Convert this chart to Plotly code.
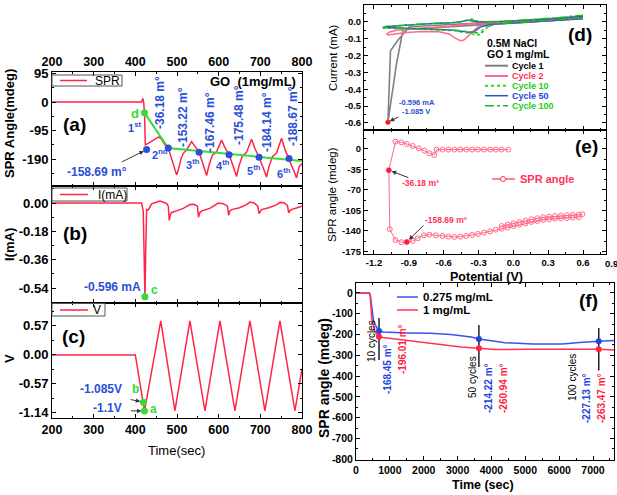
import plotly.graph_objects as go

W, H = 617, 495
FONT = "Liberation Sans, Arial, sans-serif"
RED = "#ff2448"
BLUE = "#2b4fd6"
GREEN = "#33dd33"
PINK = "#ff6a88"

# ======================= DATA =======================
# (a) SPR angle (mdeg) vs time (s)
spr_time = [200, 415, 418, 420, 422, 424, 431, 443, 456, 463, 471, 479, 487, 495, 499, 503, 510, 515, 523, 535,
            543, 553, 563, 571, 577, 585, 595, 607, 615, 625, 635, 643, 649, 657, 667, 679, 687, 697, 707, 715,
            721, 729, 739, 751, 759, 769, 779, 787, 793, 800]
spr_angle = [0, 0, 12, 0, -36.18, -143, -138, -127, -116, -124, -143, -153, -188, -227, -243, -227, -188, -171, -160, -132,
             -149, -167, -210, -245, -210, -177, -166, -127, -152, -175, -215, -248, -212, -180, -168, -124, -155, -184, -220, -250,
             -214, -182, -170, -121, -158, -189, -225, -253, -216, -205]
spr_dot_time = [427, 479, 553, 625, 697, 769]
spr_dot_angle = [-158.69, -153.22, -167.46, -175.48, -184.14, -188.67]
spr_d_time = [422]
spr_d_angle = [-36.18]
trend_time = [422, 479, 800]
trend_angle = [-36.18, -153.22, -197.0]
spr_value_labels = ["-36.18 m°", "-153.22 m°", "-167.46 m°", "-175.48 m°", "-184.14 m°", "-188.67 m°"]
cycle_labels = ["1<sup>st</sup>", "2<sup>nd</sup>", "3<sup>th</sup>", "4<sup>th</sup>", "5<sup>th</sup>", "6<sup>th</sup>"]

# (b) current (mA) vs time
cur_time = [200, 415, 419, 421, 423, 425, 427, 431, 439, 450, 459, 468, 476, 479, 481.5, 484, 487, 499, 515, 531,
            541, 549, 551.5, 555, 559, 579, 599, 611, 621, 624, 627, 631, 650, 667, 675, 685, 694, 697, 700, 703,
            720, 739, 747, 757, 765, 768, 771, 775, 788, 800]
cur_val = [0, 0, -0.05, -0.35, -0.596, -0.3, -0.04, -0.045, -0.005, 0.005, 0.012, 0.005, -0.005, -0.02, -0.11, -0.075, -0.06, -0.05, -0.034, -0.01,
           -0.008, -0.02, -0.09, -0.06, -0.05, -0.034, 0.0, -0.004, -0.02, -0.078, -0.05, -0.042, -0.03, -0.01, 0.006, 0.0, -0.02, -0.068, -0.05, -0.042,
           -0.03, -0.012, 0.004, 0.002, -0.015, -0.062, -0.048, -0.042, -0.03, -0.02]
cur_c_time = [423]
cur_c_val = [-0.596]

# (c) potential (V) vs time
volt_time = [200, 400, 422, 461, 495, 531, 567, 603, 639, 675, 711, 747, 783, 800]
volt_val = [0, 0, -1.1, 0.67, -1.1, 0.67, -1.1, 0.67, -1.1, 0.67, -1.1, 0.67, -1.1, -0.27]
volt_pt_time = [419, 422]
volt_pt_val = [-0.93, -1.1]

# (d) cyclic voltammograms
cv_E1 = [0.6, 0.4, 0.2, 0.0, -0.2, -0.4, -0.6, -0.8, -0.95, -1.007, -1.08, -1.058, -0.993, -0.894, -0.7, -0.5, -0.3, -0.1, 0.1, 0.3, 0.5, 0.6]
cv_I1 = [0.025, 0.012, 0.004, -0.004, -0.012, -0.02, -0.03, -0.04, -0.047, -0.253, -0.596, -0.172, -0.108, -0.029, -0.022, -0.015, -0.006, 0.002, 0.008, 0.015, 0.026, 0.033]
cv_E2 = [0.6, 0.4, 0.2, 0.0, -0.15, -0.27, -0.31, -0.355, -0.4, -0.426, -0.454, -0.5, -0.553, -0.64, -0.78, -0.92, -1.08, -1.09,
         -1.064, -1.007, -0.92, -0.81, -0.7, -0.58, -0.5, -0.41, -0.355, -0.2, 0.0, 0.2, 0.4, 0.6]
cv_I2 = [0.02, 0.01, 0.0, -0.008, -0.012, -0.018, -0.033, -0.063, -0.088, -0.108, -0.112, -0.096, -0.072, -0.059, -0.057, -0.063, -0.078, -0.072,
         -0.06, -0.05, -0.044, -0.037, -0.033, -0.029, -0.023, -0.018, -0.01, -0.003, 0.004, 0.012, 0.022, 0.034]
cv_E10 = [0.6, 0.4, 0.2, 0.0, -0.15, -0.242, -0.284, -0.312, -0.355, -0.5, -0.78, -1.0, -1.12, -1.12, -0.92, -0.7, -0.5, -0.384, -0.355, -0.327, -0.242, 0.0, 0.2, 0.4, 0.6]
cv_I10 = [0.02, 0.01, 0.002, -0.006, -0.012, -0.024, -0.072, -0.082, -0.072, -0.053, -0.044, -0.04, -0.037, -0.03, -0.018, -0.01, -0.004, 0.01, 0.016, 0.006, 0.0, 0.006, 0.014, 0.024, 0.036]
cv_E50 = [0.6, 0.4, 0.2, 0.0, -0.2, -0.28, -0.33, -0.37, -0.42, -0.55, -0.8, -1.0, -1.11, -1.1, -0.95, -0.75, -0.55, -0.45, -0.4, -0.36, -0.3, -0.1, 0.1, 0.3, 0.6]
cv_I50 = [0.018, 0.008, 0.0, -0.008, -0.015, -0.03, -0.055, -0.063, -0.058, -0.048, -0.04, -0.036, -0.033, -0.028, -0.02, -0.012, -0.006, 0.0, 0.01, 0.004, -0.002, 0.002, 0.008, 0.016, 0.032]
cv_E100 = [0.6, 0.4, 0.2, 0.0, -0.15, -0.22, -0.26, -0.3, -0.35, -0.5, -0.8, -1.0, -1.12, -1.11, -0.9, -0.7, -0.5, -0.4, -0.36, -0.32, -0.25, 0.0, 0.2, 0.4, 0.6]
cv_I100 = [0.022, 0.012, 0.004, -0.005, -0.012, -0.03, -0.06, -0.068, -0.06, -0.05, -0.042, -0.038, -0.035, -0.029, -0.017, -0.009, -0.003, 0.006, 0.012, 0.004, 0.0, 0.006, 0.015, 0.026, 0.04]
cv_names = ["Cycle 1", "Cycle 2", "Cycle 10", "Cycle 50", "Cycle 100"]
cv_peak_E = [-1.08]
cv_peak_I = [-0.596]

# (e) SPR angle vs potential
e_V = [-0.043, -0.1, -0.151, -0.2, -0.253, -0.304, -0.355, -0.406, -0.457, -0.508, -0.559, -0.61, -0.661,
       -0.681, -0.723, -0.766, -0.814, -0.866, -0.917, -0.964, -1.015,
       -1.072, -1.064, -1.015, -0.964, -0.917,
       -0.866, -0.823, -0.772, -0.723, -0.667, -0.61, -0.559, -0.508, -0.457, -0.406, -0.355, -0.304, -0.253, -0.2, -0.151,
       -0.1, -0.049, 0.002, 0.053, 0.104, 0.155, 0.206, 0.257, 0.308, 0.359, 0.41, 0.461, 0.512, 0.563, 0.594,
       0.563, 0.512, 0.461, 0.41, 0.359, 0.308, 0.257, 0.206, 0.155, 0.104, 0.053, 0.002, -0.049, -0.1]
e_A = [-1, -1, -1, -1, -1, -1, -1, -1, -1, -1, -1, -1, -1,
       -10.2, -7.4, -2.8, 1.1, 5.1, 8.5, 11.3, 12.5,
       -36.18, -137, -155.4, -159.3, -158.69,
       -157, -152.5, -147.4, -146.3, -147.4, -148.5, -149.7, -150.2, -149.7, -148.5, -146.8, -145.1, -142.8, -140.6, -137.7,
       -136, -134, -131.6, -129.2, -127, -124.6, -122.9, -121.2, -120, -119, -118.4, -117.8, -117.2, -116.6, -111.4,
       -112, -112.6, -113.2, -113.8, -114.4, -115.5, -116.6, -118.3, -120, -122.4, -124.6, -127, -129.2, -131.5]
e_dot_V = [-1.072, -0.917]
e_dot_A = [-36.18, -158.69]

# (f) long-term SPR angle
f_blue_t = [0, 390, 420, 440, 466, 490, 520, 564, 620, 680, 800, 1000, 1500, 2200, 2800, 3400, 3630, 4000, 4400, 5200, 6100, 6600, 6950, 7170, 7620]
f_blue_a = [0, 0, -8, -40, -70, -110, -135, -152, -170, -183, -188, -190, -192, -194, -200, -212, -221, -230, -239, -245, -245, -238, -233, -232, -228]
f_red_t = [0, 395, 420, 440, 470, 513, 564, 620, 680, 800, 1200, 2200, 3100, 3630, 4100, 5100, 6100, 7170, 7620]
f_red_a = [0, 0, -15, -80, -130, -160, -186, -200, -210, -214, -222, -242, -260, -266, -272, -271, -270, -270, -274]
f_mark_t = [680, 3630, 7170]
f_blue_mark = [-183, -221, -232]
f_red_mark = [-210, -266, -270]
f_bar_top = [-120, -154, -168]
f_bar_bottom = [-322, -356, -373]
f_cycle_labels = ["10 cycles", "50 cycles", "100 cycles"]
f_blue_labels = ["-168.45 m°", "-214.22 m°", "-227.13 m°"]
f_red_labels = ["-196.01 m°", "-260.94 m°", "-263.47 m°"]

# tick labels
a_yt = [95, 0, -95, -190]; a_ytt = ["95", "0", "-95", "-190"]
b_yt = [0, -0.18, -0.36, -0.54]; b_ytt = ["0.00", "-0.18", "-0.36", "-0.54"]
c_yt = [0.57, 0, -0.57, -1.14]; c_ytt = ["0.57", "0.00", "-0.57", "-1.14"]
t_xt = [200, 300, 400, 500, 600, 700, 800]; t_xtt = ["200", "300", "400", "500", "600", "700", "800"]
d_yt = [0.1, 0.0, -0.1, -0.2, -0.3, -0.4, -0.5, -0.6]
d_ytt = ["0.1", "0.0", "-0.1", "-0.2", "-0.3", "-0.4", "-0.5", "-0.6"]
e_yt = [0, -35, -70, -105, -140, -175]; e_ytt = ["0", "-35", "-70", "-105", "-140", "-175"]
p_xt = [-1.2, -0.9, -0.6, -0.3, 0.0, 0.3, 0.6, 0.9]
p_xtt = ["-1.2", "-0.9", "-0.6", "-0.3", "0.0", "0.3", "0.6", "0.9"]
f_yt = [0, -100, -200, -300, -400, -500, -600, -700, -800]
f_ytt = ["0", "-100", "-200", "-300", "-400", "-500", "-600", "-700", "-800"]
f_xt = [0, 1000, 2000, 3000, 4000, 5000, 6000, 7000]
f_xtt = ["0", "1000", "2000", "3000", "4000", "5000", "6000", "7000"]

# ======================= HELPERS =======================
def PX(px):
    return px / W


def PY(py):
    return 1 - py / H


def dx(l, r):
    return [PX(l), PX(r)]


def dy(t, b):
    return [PY(b), PY(t)]


def axis(domain, rng, anchor, tv, tt, labels=True, side=None, size=13, minor=None):
    d = dict(domain=domain, range=rng, anchor=anchor, showline=True, linecolor="black", linewidth=1,
             mirror="ticks", ticks="inside", ticklen=4, tickcolor="black", showgrid=False, zeroline=False,
             showticklabels=labels, tickmode="array", tickvals=tv, ticktext=tt, automargin=False,
             tickfont=dict(family=FONT, size=size, color="black", weight="bold"))
    if side:
        d["side"] = side
    if minor:
        d["minor"] = dict(ticks="inside", ticklen=2, tickcolor="black", tickmode="linear",
                          tick0=minor[0], dtick=minor[1], showgrid=False)
    return d


def ann(text, px, py, size=12, color="black", bold=True, angle=0, xanchor="center"):
    return dict(text=text, x=PX(px), y=PY(py), xref="paper", yref="paper", showarrow=False,
                textangle=angle, xanchor=xanchor, yanchor="middle",
                font=dict(family=FONT, size=size, color=color, weight="bold" if bold else "normal"))


def arrow(xr, yr, x, y, ax, ay, standoff=3):
    return dict(text="", x=x, y=y, xref=xr, yref=yr, ax=ax, ay=ay, showarrow=True,
                arrowhead=2, arrowsize=0.9, arrowwidth=1, arrowcolor="#333", standoff=standoff)


def hline(x0, x1, y, color, width=1.5, dash="solid"):
    return dict(type="line", xref="paper", yref="paper", x0=PX(x0), x1=PX(x1), y0=PY(y), y1=PY(y),
                line=dict(color=color, width=width, dash=dash))


def rect(x0, y0, x1, y1):
    return dict(type="rect", xref="paper", yref="paper", x0=PX(x0), x1=PX(x1), y0=PY(y1), y1=PY(y0),
                line=dict(color="#555", width=1), fillcolor="rgba(0,0,0,0)")


# ======================= FIGURE =======================
fig = go.Figure()

# (a)
fig.add_trace(go.Scatter(x=spr_time, y=spr_angle, mode="lines", line=dict(color=RED, width=1.5), xaxis="x", yaxis="y"))
fig.add_trace(go.Scatter(x=trend_time, y=trend_angle, mode="lines", line=dict(color=GREEN, width=2), xaxis="x", yaxis="y"))
fig.add_trace(go.Scatter(x=spr_dot_time, y=spr_dot_angle, mode="markers", marker=dict(color=BLUE, size=7), xaxis="x", yaxis="y"))
fig.add_trace(go.Scatter(x=spr_d_time, y=spr_d_angle, mode="markers", marker=dict(color=GREEN, size=7), xaxis="x", yaxis="y"))
# (b)
fig.add_trace(go.Scatter(x=cur_time, y=cur_val, mode="lines", line=dict(color=RED, width=1.5), xaxis="x2", yaxis="y2"))
fig.add_trace(go.Scatter(x=cur_c_time, y=cur_c_val, mode="markers", marker=dict(color=GREEN, size=7), xaxis="x2", yaxis="y2", cliponaxis=False))
# (c)
fig.add_trace(go.Scatter(x=volt_time, y=volt_val, mode="lines", line=dict(color=RED, width=1.5), xaxis="x3", yaxis="y3"))
fig.add_trace(go.Scatter(x=volt_pt_time, y=volt_pt_val, mode="markers", marker=dict(color=GREEN, size=7), xaxis="x3", yaxis="y3"))
# (d)
cv_styles = [("#808080", "solid", 1.6), (PINK, "solid", 1.4), ("#22dd22", "dot", 1.6), ("#3050d0", "solid", 1.2), ("#22b822", "dashdot", 1.4)]
for (E, I), (col, dash, wd) in zip([(cv_E1, cv_I1), (cv_E2, cv_I2), (cv_E10, cv_I10), (cv_E50, cv_I50), (cv_E100, cv_I100)], cv_styles):
    fig.add_trace(go.Scatter(x=E, y=I, mode="lines", line=dict(color=col, width=wd, dash=dash), xaxis="x4", yaxis="y4"))
fig.add_trace(go.Scatter(x=cv_peak_E, y=cv_peak_I, mode="markers", marker=dict(color="#ff1a1a", size=5), xaxis="x4", yaxis="y4"))
# (e)
fig.add_trace(go.Scatter(x=e_V, y=e_A, mode="lines+markers", line=dict(color=PINK, width=1),
                         marker=dict(symbol="circle-open", size=5, color=PINK, line=dict(width=1)), xaxis="x5", yaxis="y5"))
fig.add_trace(go.Scatter(x=e_dot_V, y=e_dot_A, mode="markers", marker=dict(color="#ff1a3a", size=5), xaxis="x5", yaxis="y5"))
# (f)
fig.add_trace(go.Scatter(x=f_blue_t, y=f_blue_a, mode="lines", line=dict(color="#3355ee", width=1.5), xaxis="x6", yaxis="y6"))
fig.add_trace(go.Scatter(x=f_red_t, y=f_red_a, mode="lines", line=dict(color="#ff3355", width=1.5), xaxis="x6", yaxis="y6"))
bx, by = [], []
for t, top, bot in zip(f_mark_t, f_bar_top, f_bar_bottom):
    bx += [t, t, None]
    by += [top, bot, None]
fig.add_trace(go.Scatter(x=bx, y=by, mode="lines", line=dict(color="#222", width=1.5), xaxis="x6", yaxis="y6"))
fig.add_trace(go.Scatter(x=f_mark_t, y=f_blue_mark, mode="markers", marker=dict(color="#2244dd", size=6), xaxis="x6", yaxis="y6"))
fig.add_trace(go.Scatter(x=f_mark_t, y=f_red_mark, mode="markers", marker=dict(color="#ff2244", size=6), xaxis="x6", yaxis="y6"))

# ---------------- axes ----------------
layout_axes = dict(
    xaxis=axis(dx(52, 302), [200, 800], "y", t_xt, t_xtt, True, "top", 12.5, (200, 50)),
    yaxis=axis(dy(72, 186), [-280, 100], "x", a_yt, a_ytt, True, None, 13, (0, 47.5)),
    xaxis2=axis(dx(52, 302), [200, 800], "y2", t_xt, t_xtt, False, None, 12.5, (200, 50)),
    yaxis2=axis(dy(186, 303), [-0.635, 0.108], "x2", b_yt, b_ytt, True, None, 13, (0, 0.09)),
    xaxis3=axis(dx(52, 302), [200, 800], "y3", t_xt, t_xtt, True, None, 12.5, (200, 50)),
    yaxis3=axis(dy(303, 418), [-1.24, 1.02], "x3", c_yt, c_ytt, True, None, 13, (0, 0.285)),
    xaxis4=axis(dx(364, 606), [-1.286, 0.798], "y4", p_xt, p_xtt, False, None, 9.5, (-1.2, 0.15)),
    yaxis4=axis(dy(5, 130), [-0.642, 0.1], "x4", d_yt, d_ytt, True, None, 9.5, (0, 0.05)),
    xaxis5=axis(dx(364, 606), [-1.286, 0.798], "y5", p_xt, p_xtt, True, None, 9.5, (-1.2, 0.15)),
    yaxis5=axis(dy(130, 254), [-179.3, 32.4], "x5", e_yt, e_ytt, True, None, 9.5, (0, 17.5)),
    xaxis6=axis(dx(356, 614), [0, 7620], "y6", f_xt, f_xtt, True, None, 10.5, (0, 500)),
    yaxis6=axis(dy(283, 460), [-803, 48], "x6", f_yt, f_ytt, True, None, 10.5, (0, 50)),
)

# ---------------- annotations ----------------
anns = []
# axis titles
anns.append(ann("SPR Angle(mdeg)", 9, 124, 13, angle=-90))
anns.append(ann("I(mA)", 9, 245, 13, angle=-90))
anns.append(ann("V", 9, 359, 13, angle=-90))
anns.append(ann("Time(sec)", 177, 450, 13, bold=False))
anns.append(ann("Current (mA)", 333, 58, 11.5, bold=False, angle=-90))
anns.append(ann("SPR angle (mdeg)", 332, 195, 11.5, bold=False, angle=-90))
anns.append(ann("Potential (V)", 486, 277, 12.5))
anns.append(ann("0.9", 603, 263, 9.5, xanchor="left"))
anns.append(ann("SPR angle (mdeg)", 324, 378, 14, angle=-90))
anns.append(ann("Time (sec)", 483, 485, 12.5))

# (a)
anns.append(ann("(a)", 74, 124, 19))
anns.append(ann("GO  (1mg/mL)", 253, 82, 13))
anns.append(ann("d", 135, 113, 13, color=GREEN))
for txt, (cx, cy) in zip(spr_value_labels, [(160, 103), (183, 117), (210, 122), (239, 115), (267, 122), (293, 116)]):
    anns.append(ann(txt, cx, cy, 12, color=BLUE, angle=-90))
for txt, (cx, cy) in zip(cycle_labels, [(134, 127), (160, 154), (193, 164), (223, 165), (254, 170), (284, 173)]):
    anns.append(ann(txt, cx, cy, 11, color=BLUE))
anns.append(ann("-158.69 m°", 97, 172, 12, color=BLUE))
anns.append(arrow("x", "y", spr_dot_time[0], spr_dot_angle[0], -26, 13))
anns.append(ann("SPR", 93, 80.5, 12, bold=False, xanchor="left"))
# (b)
anns.append(ann("(b)", 75, 234, 19))
anns.append(ann("-0.596 mA", 112, 287, 12, color=BLUE))
anns.append(ann("c", 154, 290, 12, color=GREEN))
anns.append(ann("I(mA)", 96, 194.5, 12, bold=False, xanchor="left"))
# (c)
anns.append(ann("(c)", 73, 336, 19))
anns.append(ann("-1.085V", 101, 389, 12, color=BLUE))
anns.append(ann("-1.1V", 107, 408, 12, color=BLUE))
anns.append(ann("b", 135, 389, 12, color=GREEN))
anns.append(ann("a", 153, 409, 12, color=GREEN))
anns.append(ann("V", 91, 310, 12, bold=False, xanchor="left"))
anns.append(arrow("x3", "y3", volt_pt_time[0], volt_pt_val[0], -14, -3))
anns.append(arrow("x3", "y3", volt_pt_time[1], volt_pt_val[1], -15, 0))
# (d)
anns.append(ann("(d)", 580, 34, 19))
anns.append(ann("0.5M NaCl", 485, 43, 10.5, xanchor="left"))
anns.append(ann("GO 1 mg/mL", 485, 54, 10.5, xanchor="left"))
cv_text_colors = ["black", "#ff3355", "#22cc22", "#2244dd", "#22cc22"]
for nm, tc, yy in zip(cv_names, cv_text_colors, [65.7, 76, 85.7, 95.7, 105.7]):
    anns.append(ann(nm, 510, yy, 9, color=tc, xanchor="left"))
anns.append(ann("-0.596 mA", 417, 102, 7.5, color=BLUE))
anns.append(ann("-1.085 V", 416, 111, 7.5, color=BLUE))
anns.append(arrow("x4", "y4", cv_peak_E[0], cv_peak_I[0], 12, -6, 2))
# (e)
anns.append(ann("(e)", 586, 146, 19))
anns.append(ann("SPR angle", 518, 179, 11, color="#ff3355", xanchor="left"))
anns.append(ann("-36.18 m°", 421, 183, 8.5, color="#ff3355"))
anns.append(ann("-158.69 m°", 446, 220, 8.5, color="#ff3355"))
anns.append(arrow("x5", "y5", e_dot_V[0], e_dot_A[0], 21, 8))
anns.append(arrow("x5", "y5", e_dot_V[1], e_dot_A[1], 18, -18))
# (f)
anns.append(ann("(f)", 588, 300, 19))
anns.append(ann("0.275 mg/mL", 421, 297, 11.5, xanchor="left"))
anns.append(ann("1 mg/mL", 421, 310, 11.5, xanchor="left"))
for txt, (cx, cy) in zip(f_cycle_labels, [(371, 341), (472, 377), (572, 378)]):
    anns.append(ann(txt, cx, cy, 10, bold=False, angle=-90))
for txt, (cx, cy) in zip(f_blue_labels, [(387, 369), (488, 388), (586, 398)]):
    anns.append(ann(txt, cx, cy, 10, color="#2244dd", angle=-90))
for txt, (cx, cy) in zip(f_red_labels, [(402, 349), (503, 388), (601, 398)]):
    anns.append(ann(txt, cx, cy, 10, color="#ff2244", angle=-90))

# ---------------- legend shapes ----------------
shapes = [
    rect(52, 75, 122, 86), hline(60, 87, 80.5, RED),
    rect(52, 188, 127, 201), hline(60, 88, 194.5, RED),
    rect(52, 303.5, 105, 316), hline(60, 88, 310, RED),
    hline(485, 508, 65.7, "#808080", 2), hline(485, 508, 76, PINK, 2),
    hline(485, 508, 85.7, "#22dd22", 2, "dot"), hline(485, 508, 95.7, "#3050d0", 1.5),
    hline(485, 508, 105.7, "#22b822", 1.5, "dashdot"),
    hline(492, 515, 179, "#ff3355", 1.2),
    dict(type="circle", xref="paper", yref="paper", x0=PX(500.5), x1=PX(505.5), y0=PY(181.5), y1=PY(176.5),
         line=dict(color="#ff3355", width=1), fillcolor="white"),
    hline(397, 418, 297, "#3355ee", 1.5), hline(397, 418, 310, "#ff3355", 1.5),
]

fig.update_layout(
    width=W, height=H, autosize=False,
    margin=dict(l=0, r=0, t=0, b=0, pad=0),
    paper_bgcolor="white", plot_bgcolor="white",
    showlegend=False,
    font=dict(family=FONT, color="black"),
    annotations=anns, shapes=shapes,
    **layout_axes,
)

fig.write_html("out.html", config={"displayModeBar": False},
               post_script="document.body.style.margin='0';document.body.style.padding='0';document.body.style.overflow='hidden';")
